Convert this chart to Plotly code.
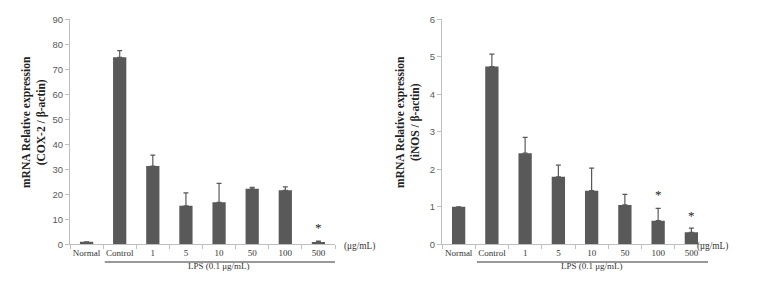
import plotly.graph_objects as go

# page body has an 8px margin; lay out in reference pixels shifted by OFF
OFF = 8
W, H = 766 - 2 * OFF, 286 - 2 * OFF

categories = ["Normal", "Control", "1", "5", "10", "50", "100", "500"]

cox2_values = [1.0, 74.8, 31.3, 15.4, 16.8, 22.2, 21.6, 0.9]
cox2_err_top = [1.0, 77.5, 35.7, 20.6, 24.4, 22.8, 23.0, 1.3]
cox2_star_cats = ["500"]
cox2_star_y = [6.6]

inos_values = [1.0, 4.74, 2.43, 1.80, 1.43, 1.05, 0.63, 0.32]
inos_err_top = [1.0, 5.07, 2.85, 2.11, 2.03, 1.33, 0.96, 0.43]
inos_star_cats = ["100", "500"]
inos_star_y = [1.34, 0.78]

cox2_ticks = [0, 10, 20, 30, 40, 50, 60, 70, 80, 90]
inos_ticks = [0, 1, 2, 3, 4, 5, 6]

BAR = "#595959"
AX = "#bfbfbf"
SERIF = "Liberation Serif, Times New Roman, serif"
SANS = "Liberation Sans, Arial, sans-serif"


def px_x(p):
    return (p - OFF) / W


def px_y(p):
    return (H - (p - OFF)) / H


fig = go.Figure()


def add_panel(vals, tops, star_cats, star_y, xa, ya):
    err = [t - v for t, v in zip(tops, vals)]
    fig.add_trace(go.Bar(
        x=categories, y=vals, marker=dict(color=BAR, line=dict(width=0)),
        width=0.4, xaxis=xa, yaxis=ya, showlegend=False,
        error_y=dict(type="data", symmetric=False, array=err,
                     arrayminus=[0] * len(err), color=BAR, thickness=1.2, width=2.5),
    ))
    for c, yv in zip(star_cats, star_y):
        fig.add_annotation(xref=xa, yref=ya, x=categories.index(c), y=yv, text="*",
                           showarrow=False,
                           font=dict(family=SERIF, size=13, color="#222"))


add_panel(cox2_values, cox2_err_top, cox2_star_cats, cox2_star_y, "x", "y")
add_panel(inos_values, inos_err_top, inos_star_cats, inos_star_y, "x2", "y2")

ydom = [px_y(244.3), px_y(19.3)]

xcommon = dict(type="category", categoryorder="array", categoryarray=categories,
               showline=True, linecolor=AX, linewidth=1, ticks="outside",
               tickson="boundaries", ticklen=4, tickcolor=AX, tickangle=0,
               automargin=False,
               tickfont=dict(family=SERIF, size=9, color="#333"),
               showgrid=False, zeroline=False, range=[-0.5, 7.5], fixedrange=True)
ycommon = dict(showline=True, linecolor=AX, linewidth=1, ticks="outside",
               ticklen=4, tickcolor=AX, showgrid=False, zeroline=False,
               automargin=False,
               tickfont=dict(family=SANS, size=9.5, color="#595959"), domain=ydom)

fig.update_layout(
    width=W, height=H, margin=dict(l=0, r=0, t=0, b=0, autoexpand=False),
    paper_bgcolor="white", plot_bgcolor="white", bargap=0.6,
    xaxis=dict(xcommon, domain=[px_x(70), px_x(335)], anchor="y"),
    yaxis=dict(ycommon, range=[0, 90], tickvals=cox2_ticks, anchor="x"),
    xaxis2=dict(xcommon, domain=[px_x(442), px_x(708)], anchor="y2"),
    yaxis2=dict(ycommon, range=[0, 6], tickvals=inos_ticks, anchor="x2"),
)

for xr, ux in (("x", 359), ("x2", 730)):
    fig.add_shape(type="line", xref=xr, yref="paper", x0=0.55, x1=7.55,
                  y0=px_y(262), y1=px_y(262), line=dict(color="#333", width=1))
    fig.add_annotation(xref=xr, yref="paper", x=4.0, y=px_y(273),
                       text="LPS (0.1 μg/mL)", showarrow=False,
                       font=dict(family=SERIF, size=9, color="#333"))
    fig.add_annotation(xref="paper", yref="paper", x=px_x(ux), y=px_y(254),
                       text="(μg/mL)", showarrow=False,
                       font=dict(family=SERIF, size=9.3, color="#333"))

titles = [("mRNA Relative expression<br>(COX-2 / β-actin)", 34),
          ("mRNA Relative expression<br>(iNOS / β-actin)", 408)]
for txt, px in titles:
    fig.add_annotation(xref="paper", yref="paper", x=px_x(px), y=px_y(122),
                       xanchor="center", yanchor="middle",
                       text="<b>" + txt + "</b>", textangle=-90, showarrow=False,
                       font=dict(family=SERIF, size=11.5, color="#222"))

fig.write_html("out.html")
